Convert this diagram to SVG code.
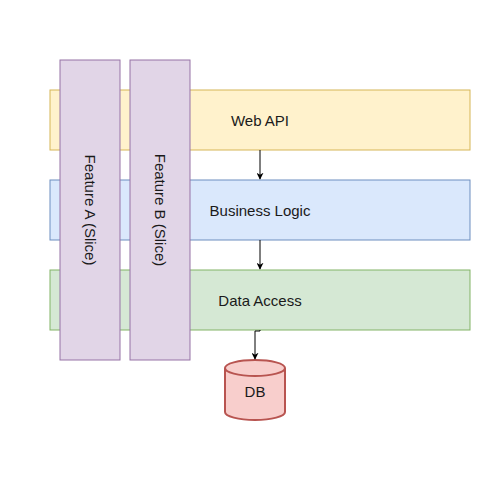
<svg xmlns="http://www.w3.org/2000/svg" width="500" height="500" viewBox="0 0 500 500">
<defs>
<style>
text{font-family:"Liberation Sans",Arial,sans-serif;font-size:15px;fill:#1a1a1a;text-anchor:middle;dominant-baseline:central}
.edge{stroke:#000;stroke-width:1;fill:none}
</style>
<marker id="arr" viewBox="0 0 10 10" refX="9" refY="5" markerWidth="7" markerHeight="7" orient="auto" markerUnits="userSpaceOnUse">
<path d="M0,0 L10,5 L0,10 L3,5 Z" fill="#000"/>
</marker>
</defs>
<rect width="500" height="500" fill="#fff"/>
<g id="webapi">
<rect x="50" y="90" width="420" height="60" fill="#fff2cc" stroke="#d6b656"/>
<text x="260" y="120">Web API</text>
</g>
<g id="business">
<rect x="50" y="180" width="420" height="60" fill="#dae8fc" stroke="#6c8ebf"/>
<text x="260" y="210">Business Logic</text>
</g>
<g id="data">
<rect x="50" y="270" width="420" height="60" fill="#d5e8d4" stroke="#82b366"/>
<text x="260" y="300">Data Access</text>
</g>
<g id="featureA">
<rect x="60" y="60" width="60" height="300" fill="#e1d5e7" stroke="#9673a6"/>
<text x="90" y="210" transform="rotate(90 90 210)">Feature A (Slice)</text>
</g>
<g id="featureB">
<rect x="130" y="60" width="60" height="300" fill="#e1d5e7" stroke="#9673a6"/>
<text x="160" y="210" transform="rotate(90 160 210)">Feature B (Slice)</text>
</g>
<g id="db">
<path d="M225,368 A30,8 0 0 1 285,368 L285,412 A30,8 0 0 1 225,412 Z" fill="#f8cecc" stroke="#b85450" stroke-width="2"/>
<path d="M225,368 A30,8 0 0 0 285,368" fill="none" stroke="#b85450" stroke-width="2"/>
<text x="255" y="391">DB</text>
</g>
<g id="connectors">
<path class="edge" d="M260,150 L260,179" marker-end="url(#arr)"/>
<path class="edge" d="M260,240 L260,269" marker-end="url(#arr)"/>
<path class="edge" d="M260,330 L260,331 L255,331 L255,359" marker-end="url(#arr)"/>
</g>
</svg>
